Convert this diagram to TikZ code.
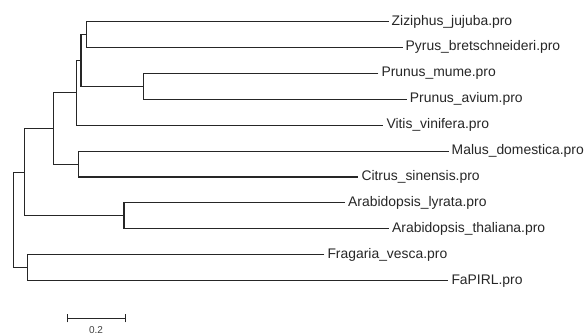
\documentclass[tikz,border=0pt]{standalone}
\usepackage{fontspec}
\setmainfont{Liberation Sans}
\begin{document}
\begin{tikzpicture}[x=1pt,y=-1pt,
  branch/.style={draw=black!85,line width=1.1pt},
  leaf/.style={anchor=west,inner xsep=3pt,inner ysep=0pt,font=\fontsize{13.9}{15}\selectfont,text=black!85},
  scalelbl/.style={font=\fontsize{10}{12}\selectfont,text=black!75,inner sep=0pt}]
\useasboundingbox (0,0) rectangle (587,335);
% leaves
\node[leaf] (zz) at (388.5,21.5)  {Ziziphus\_jujuba.pro};
\node[leaf] (py) at (402.5,47.4)  {Pyrus\_bretschneideri.pro};
\node[leaf] (pm) at (378.3,73.3)  {Prunus\_mume.pro};
\node[leaf] (pa) at (406.7,99.3)  {Prunus\_avium.pro};
\node[leaf] (vv) at (383.3,125.2) {Vitis\_vinifera.pro};
\node[leaf] (md) at (448.5,151.1) {Malus\_domestica.pro};
\node[leaf] (cs) at (358.3,177.0) {Citrus\_sinensis.pro};
\node[leaf] (al) at (345.0,202.9) {Arabidopsis\_lyrata.pro};
\node[leaf] (at) at (389.0,228.9) {Arabidopsis\_thaliana.pro};
\node[leaf] (fv) at (324.3,254.8) {Fragaria\_vesca.pro};
\node[leaf] (fa) at (448.3,280.7) {FaPIRL.pro};
% internal nodes
\coordinate (A) at (86.3,34.45);
\coordinate (B) at (143.7,86.3);
\coordinate (C) at (81,60.4);
\coordinate (D) at (76.7,92.8);
\coordinate (E) at (78.7,164.05);
\coordinate (F) at (53.3,128.4);
\coordinate (G) at (124,215.9);
\coordinate (H) at (24.3,172.15);
\coordinate (I) at (27.7,267.75);
\coordinate (R) at (13.3,219.95);
% branches
\draw[branch] (zz.west) -| (A) |- (py.west);
\draw[branch] (pm.west) -| (B) |- (pa.west);
\draw[branch] (A) -| (C) |- (B);
\draw[branch] (C) -| (D) |- (vv.west);
\draw[branch] (md.west) -| (E) |- (cs.west);
\draw[branch] (D) -| (F) |- (E);
\draw[branch] (al.west) -| (G) |- (at.west);
\draw[branch] (F) -| (H) |- (G);
\draw[branch] (fv.west) -| (I) |- (fa.west);
\draw[branch] (H) -| (R) |- (I);
% scale bar
\coordinate (s1) at (67.5,318.3);
\coordinate (s2) at (125.5,318.3);
\draw[branch] (s1) -- (s2);
\draw[branch] ([yshift=-4pt]s1) -- ([yshift=4pt]s1);
\draw[branch] ([yshift=-4pt]s2) -- ([yshift=4pt]s2);
\node[scalelbl] (sl) at (96,330.5) {0.2};
\end{tikzpicture}
\end{document}
